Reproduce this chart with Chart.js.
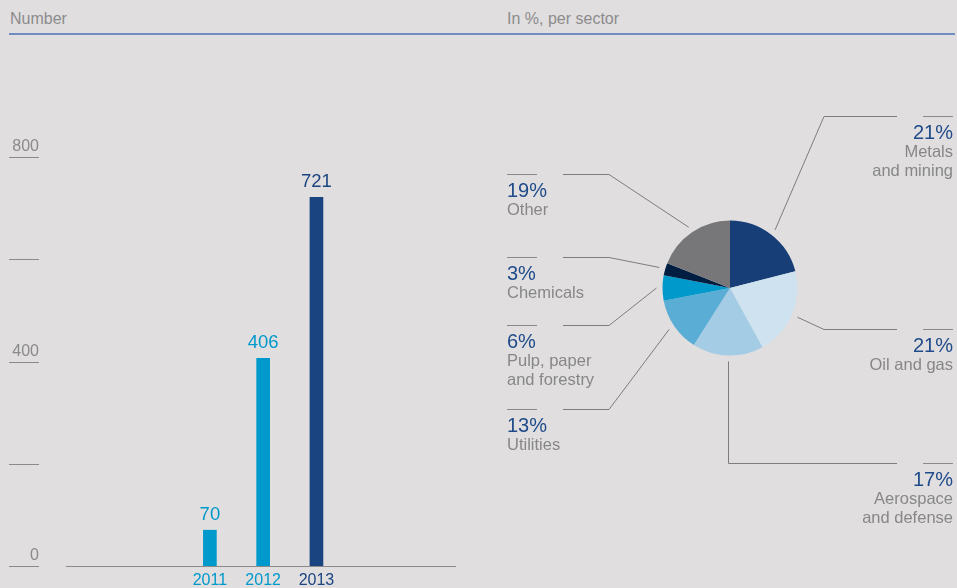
<!DOCTYPE html>
<html>
<head>
<meta charset="utf-8">
<script src="https://cdn.jsdelivr.net/npm/chart.js@4"></script>
<style>
  html, body { margin: 0; padding: 0; }
  body { width: 957px; height: 588px; background: #e0dedf; position: relative; overflow: hidden; font-family: "Liberation Sans", Arial, sans-serif; }
  .head { position: absolute; top: 9px; font-size: 16px; line-height: 20px; color: #8c8c8c; }
  .head-rule { position: absolute; left: 9px; width: 946px; top: 33px; height: 2px; background: #6f8dbf; }
  canvas { position: absolute; left: 0; top: 0; }
  .callout { position: absolute; color: #878787; }
  .callout .rule { width: 30px; height: 1px; background: #8a8a8a; }
  .callout.right { text-align: right; }
  .callout.right .rule { margin-left: auto; }
  .callout .pct { font-size: 20px; line-height: 20px; color: #1f4b8a; margin-top: 5px; }
  .callout .name { font-size: 16.5px; line-height: 19px; white-space: nowrap; }
</style>
</head>
<body>
<div class="head" style="left:10px">Number</div>
<div class="head" style="left:507px">In %, per sector</div>
<div class="head-rule"></div>
<canvas id="bars" width="480" height="588"></canvas>
<canvas id="pie" width="957" height="588"></canvas>
<div id="labels"></div>
<script>
// ====== Data ======
const years = [2011, 2012, 2013];
const counts = [70, 406, 721];
const yTicks = [0, 200, 400, 600, 800];
const yTickLabels = [0, 400, 800];

const sectors = ["Metals\nand mining", "Oil and gas", "Aerospace\nand defense", "Utilities", "Pulp, paper\nand forestry", "Chemicals", "Other"];
const shares = [21, 21, 17, 13, 6, 3, 19];

// ====== Styles ======
const barColors = ["#0099cc", "#0099cc", "#1a4480"];
const sliceColors = ["#173e77", "#cfe2ef", "#a4cde5", "#5aaed6", "#0099cc", "#001e42", "#77777a"];
const axisGrey = "#8a8a8a";
const font = "'Liberation Sans', Arial, sans-serif";
// callout rule line y and side for each slice
const calloutLayout = [
  { side: "right", y: 116 },
  { side: "right", y: 329 },
  { side: "down", y: 463 },
  { side: "left", y: 409 },
  { side: "left", y: 325 },
  { side: "left", y: 257 },
  { side: "left", y: 174 }
];

// ====== Bar chart ======
const yTickPlugin = {
  id: "yTicks",
  afterDraw(chart) {
    const ctx = chart.ctx;
    const y = chart.scales.y;
    ctx.save();
    ctx.strokeStyle = axisGrey;
    ctx.lineWidth = 1;
    ctx.fillStyle = axisGrey;
    ctx.font = "16px " + font;
    ctx.textAlign = "right";
    ctx.textBaseline = "alphabetic";
    yTicks.forEach(v => {
      const py = Math.round(y.getPixelForValue(v)) + 0.5;
      ctx.beginPath();
      ctx.moveTo(9, py);
      ctx.lineTo(39, py);
      ctx.stroke();
      if (yTickLabels.includes(v)) ctx.fillText(String(v), 39, py - 7);
    });
    ctx.restore();
  }
};

const valueLabelPlugin = {
  id: "valueLabels",
  afterDatasetsDraw(chart) {
    const ctx = chart.ctx;
    const meta = chart.getDatasetMeta(0);
    ctx.save();
    ctx.font = "18.5px " + font;
    ctx.textAlign = "center";
    ctx.textBaseline = "alphabetic";
    meta.data.forEach((bar, i) => {
      ctx.fillStyle = barColors[i];
      ctx.fillText(String(counts[i]), bar.x, bar.y - 10);
    });
    ctx.restore();
  }
};

new Chart(document.getElementById("bars"), {
  type: "bar",
  data: {
    datasets: [{
      data: years.map((yr, i) => ({ x: yr, y: counts[i] })),
      backgroundColor: barColors,
      borderWidth: 0,
      barThickness: 13
    }]
  },
  options: {
    responsive: false,
    animation: false,
    layout: { padding: { left: 66, right: 25, top: 157, bottom: 0 } },
    plugins: { legend: { display: false }, tooltip: { enabled: false } },
    scales: {
      x: {
        type: "linear",
        offset: false,
        min: 2008.3,
        max: 2015.6,
        grid: { display: false, drawTicks: false },
        border: { display: true, color: axisGrey, width: 1 },
        afterFit: s => { s.height = 22; },
        ticks: {
          stepSize: 1,
          autoSkip: false,
          padding: 5,
          font: { size: 16, family: font },
          color: c => {
            const i = years.indexOf(c.tick && c.tick.value);
            return i >= 0 ? barColors[i] : "transparent";
          },
          callback: v => years.includes(v) ? String(v) : ""
        }
      },
      y: { display: false, min: 0, max: 800 }
    }
  },
  plugins: [yTickPlugin, valueLabelPlugin]
});

// ====== Pie chart ======
const leaderPlugin = {
  id: "leaders",
  afterDatasetsDraw(chart) {
    const ctx = chart.ctx;
    const meta = chart.getDatasetMeta(0);
    ctx.save();
    ctx.strokeStyle = "#7d7d7d";
    ctx.lineWidth = 1;
    meta.data.forEach((arc, i) => {
      const p = arc.getProps(["x", "y", "startAngle", "endAngle", "outerRadius"], true);
      const mid = (p.startAngle + p.endAngle) / 2;
      const r = p.outerRadius + 6;
      const px = p.x + Math.cos(mid) * r;
      const py = p.y + Math.sin(mid) * r;
      const lay = calloutLayout[i];
      const ly = lay.y + 0.5;
      let elbowX, endX;
      if (lay.side === "left") { elbowX = 609; endX = 563; }
      else if (lay.side === "right") { elbowX = 824; endX = 897; }
      else { elbowX = Math.round(px) + 0.5; endX = 897; }
      ctx.beginPath();
      ctx.moveTo(lay.side === "down" ? elbowX : px, py);
      ctx.lineTo(elbowX, ly);
      ctx.lineTo(endX, ly);
      ctx.stroke();
    });
    ctx.restore();
  }
};

new Chart(document.getElementById("pie"), {
  type: "pie",
  data: {
    labels: sectors,
    datasets: [{ data: shares, backgroundColor: sliceColors, borderWidth: 0 }]
  },
  options: {
    responsive: false,
    animation: false,
    layout: { padding: { left: 662.5, right: 159.5, top: 220.5, bottom: 232.5 } },
    plugins: { legend: { display: false }, tooltip: { enabled: false } }
  },
  plugins: [leaderPlugin]
});

// ====== Callout labels ======
const labelsDiv = document.getElementById("labels");
sectors.forEach((name, i) => {
  const lay = calloutLayout[i];
  const el = document.createElement("div");
  el.className = "callout " + (lay.side === "left" ? "left" : "right");
  el.style.top = lay.y + "px";
  if (lay.side === "left") el.style.left = "507px";
  else el.style.right = "4px";
  el.innerHTML = `<div class="rule"></div><div class="pct">${shares[i]}%</div>` +
    name.split("\n").map(t => `<div class="name">${t}</div>`).join("");
  labelsDiv.appendChild(el);
});
</script>
</body>
</html>
